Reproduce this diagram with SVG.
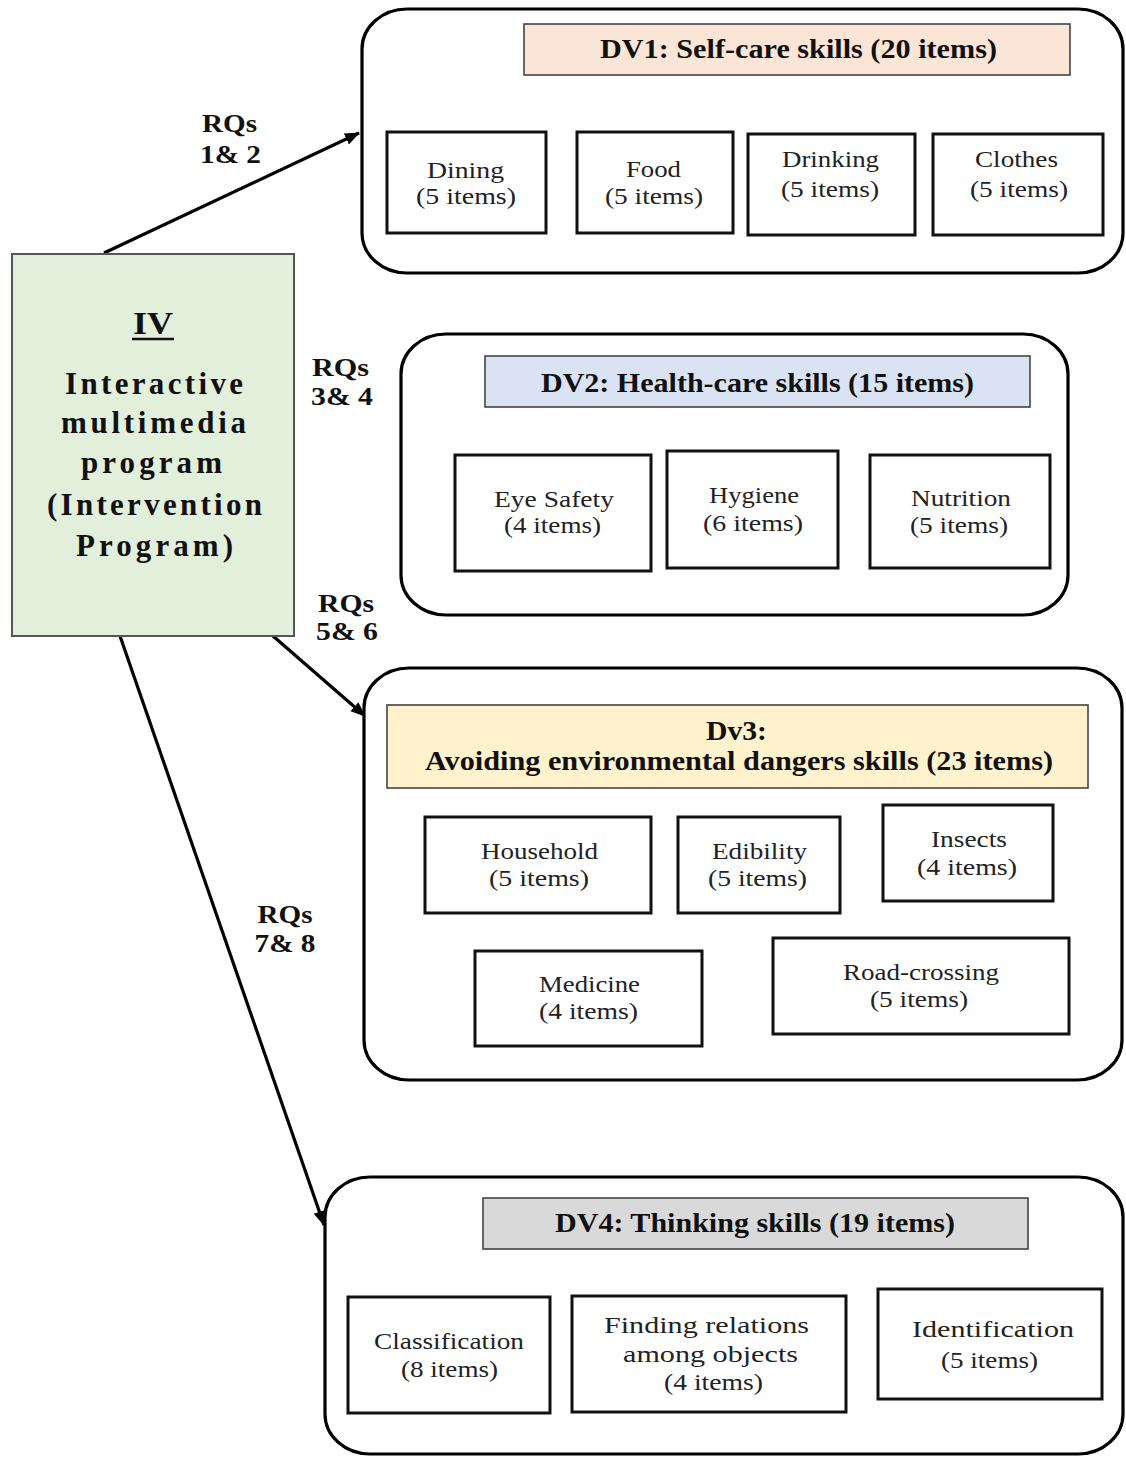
<svg xmlns="http://www.w3.org/2000/svg" width="1126" height="1457" viewBox="0 0 1126 1457">
<style>
.bg{fill:#ffffff}
.cont{fill:#ffffff;stroke:#000;stroke-width:3.2}
.item{fill:#ffffff;stroke:#111;stroke-width:3}
.hdr{stroke:#444;stroke-width:1.6}
.it{font-family:"Liberation Serif","Times New Roman",serif;font-size:24px;fill:#222;text-anchor:middle}
.h{font-family:"Liberation Serif","Times New Roman",serif;font-size:27px;font-weight:bold;fill:#111;text-anchor:middle}
.rq{font-family:"Liberation Serif","Times New Roman",serif;font-size:25px;font-weight:bold;fill:#111;text-anchor:middle}
.iv{font-family:"Liberation Serif","Times New Roman",serif;font-size:31px;font-weight:bold;fill:#111;text-anchor:middle}
.conn{stroke:#000;stroke-width:3.2;fill:none}
</style>
<defs>
<marker id="ah" markerUnits="userSpaceOnUse" markerWidth="16" markerHeight="14" refX="14" refY="6" orient="auto">
<path d="M0,0 L15,6 L0,12 z" fill="#000"/>
</marker>
</defs>
<rect class="bg" x="0" y="0" width="1126" height="1457"/>

<g id="connectors">
<line class="conn" x1="104" y1="253" x2="359" y2="133" marker-end="url(#ah)"/>
<line class="conn" x1="273" y1="636" x2="365" y2="716" marker-end="url(#ah)"/>
<line class="conn" x1="120" y1="636" x2="324" y2="1225" marker-end="url(#ah)"/>
<text class="rq" x="229.5" y="132" textLength="55" lengthAdjust="spacingAndGlyphs">RQs</text>
<text class="rq" x="230.5" y="163" textLength="61" lengthAdjust="spacingAndGlyphs">1&amp; 2</text>
<text class="rq" x="340.5" y="376" textLength="57" lengthAdjust="spacingAndGlyphs">RQs</text>
<text class="rq" x="342" y="405" textLength="62" lengthAdjust="spacingAndGlyphs">3&amp; 4</text>
<text class="rq" x="346" y="612" textLength="56" lengthAdjust="spacingAndGlyphs">RQs</text>
<text class="rq" x="347" y="640" textLength="62" lengthAdjust="spacingAndGlyphs">5&amp; 6</text>
<text class="rq" x="285" y="923" textLength="55" lengthAdjust="spacingAndGlyphs">RQs</text>
<text class="rq" x="285" y="952" textLength="61" lengthAdjust="spacingAndGlyphs">7&amp; 8</text>
</g>

<g id="iv">
<rect x="12" y="254" width="282" height="382" fill="#e2efda" stroke="#555" stroke-width="2"/>
<text class="iv" x="153" y="334" textLength="40" lengthAdjust="spacingAndGlyphs">IV</text>
<line x1="132" y1="339" x2="174" y2="339" stroke="#111" stroke-width="2.5"/>
<text class="iv" x="154" y="394" textLength="178" lengthAdjust="spacing">Interactive</text>
<text class="iv" x="153.5" y="433" textLength="185" lengthAdjust="spacing">multimedia</text>
<text class="iv" x="151.5" y="473" textLength="141" lengthAdjust="spacing">program</text>
<text class="iv" x="154.5" y="515" textLength="215" lengthAdjust="spacing">(Intervention</text>
<text class="iv" x="154.5" y="556" textLength="157" lengthAdjust="spacing">Program)</text>
</g>

<g id="dv1">
<rect class="cont" x="362" y="9" width="761" height="264" rx="45" ry="40"/>
<rect class="hdr" x="524" y="24" width="546" height="51" fill="#fbe5d6"/>
<text class="h" x="798.5" y="58" textLength="397" lengthAdjust="spacingAndGlyphs">DV1: Self-care skills (20 items)</text>
<g id="dining">
<rect class="item" x="387" y="132" width="159" height="101"/>
<text class="it" x="465.5" y="178" textLength="77" lengthAdjust="spacingAndGlyphs">Dining</text>
<text class="it" x="466" y="204" textLength="100" lengthAdjust="spacingAndGlyphs">(5 items)</text>
</g>
<g id="food">
<rect class="item" x="577" y="132" width="156" height="101"/>
<text class="it" x="653.5" y="177" textLength="55" lengthAdjust="spacingAndGlyphs">Food</text>
<text class="it" x="654" y="204" textLength="98" lengthAdjust="spacingAndGlyphs">(5 items)</text>
</g>
<g id="drinking">
<rect class="item" x="748" y="134" width="167" height="101"/>
<text class="it" x="830.5" y="167" textLength="97" lengthAdjust="spacingAndGlyphs">Drinking</text>
<text class="it" x="830" y="197" textLength="98" lengthAdjust="spacingAndGlyphs">(5 items)</text>
</g>
<g id="clothes">
<rect class="item" x="933" y="134" width="170" height="101"/>
<text class="it" x="1016.5" y="167" textLength="83" lengthAdjust="spacingAndGlyphs">Clothes</text>
<text class="it" x="1019" y="197" textLength="98" lengthAdjust="spacingAndGlyphs">(5 items)</text>
</g>
</g>

<g id="dv2">
<rect class="cont" x="401" y="334" width="667" height="281" rx="45" ry="40"/>
<rect class="hdr" x="485" y="356" width="545" height="51" fill="#dae3f3"/>
<text class="h" x="757.5" y="392" textLength="433" lengthAdjust="spacingAndGlyphs">DV2: Health-care skills (15 items)</text>
<g id="eye">
<rect class="item" x="455" y="455" width="196" height="116"/>
<text class="it" x="554" y="507" textLength="120" lengthAdjust="spacingAndGlyphs">Eye Safety</text>
<text class="it" x="552.5" y="533" textLength="97" lengthAdjust="spacingAndGlyphs">(4 items)</text>
</g>
<g id="hygiene">
<rect class="item" x="667" y="451" width="171" height="117"/>
<text class="it" x="754" y="503" textLength="90" lengthAdjust="spacingAndGlyphs">Hygiene</text>
<text class="it" x="753" y="531" textLength="100" lengthAdjust="spacingAndGlyphs">(6 items)</text>
</g>
<g id="nutrition">
<rect class="item" x="870" y="455" width="180" height="113"/>
<text class="it" x="961" y="506" textLength="100" lengthAdjust="spacingAndGlyphs">Nutrition</text>
<text class="it" x="959" y="533" textLength="98" lengthAdjust="spacingAndGlyphs">(5 items)</text>
</g>
</g>

<g id="dv3">
<rect class="cont" x="364" y="668" width="758" height="412" rx="45" ry="40"/>
<rect class="hdr" x="387" y="705" width="701" height="83" fill="#fff2cc"/>
<text class="h" x="736.5" y="740" textLength="61" lengthAdjust="spacingAndGlyphs">Dv3:</text>
<text class="h" x="739" y="770" textLength="628" lengthAdjust="spacingAndGlyphs">Avoiding environmental dangers skills (23 items)</text>
<g id="household">
<rect class="item" x="425" y="817" width="226" height="96"/>
<text class="it" x="539.5" y="859" textLength="117" lengthAdjust="spacingAndGlyphs">Household</text>
<text class="it" x="539" y="886" textLength="100" lengthAdjust="spacingAndGlyphs">(5 items)</text>
</g>
<g id="edibility">
<rect class="item" x="678" y="817" width="162" height="96"/>
<text class="it" x="759.5" y="859" textLength="95" lengthAdjust="spacingAndGlyphs">Edibility</text>
<text class="it" x="757.5" y="886" textLength="99" lengthAdjust="spacingAndGlyphs">(5 items)</text>
</g>
<g id="insects">
<rect class="item" x="883" y="805" width="170" height="96"/>
<text class="it" x="969" y="847" textLength="76" lengthAdjust="spacingAndGlyphs">Insects</text>
<text class="it" x="967" y="875" textLength="100" lengthAdjust="spacingAndGlyphs">(4 items)</text>
</g>
<g id="medicine">
<rect class="item" x="475" y="951" width="227" height="95"/>
<text class="it" x="589.5" y="992" textLength="101" lengthAdjust="spacingAndGlyphs">Medicine</text>
<text class="it" x="588.5" y="1019" textLength="99" lengthAdjust="spacingAndGlyphs">(4 items)</text>
</g>
<g id="road">
<rect class="item" x="773" y="938" width="296" height="96"/>
<text class="it" x="921" y="980" textLength="156" lengthAdjust="spacingAndGlyphs">Road-crossing</text>
<text class="it" x="919" y="1007" textLength="98" lengthAdjust="spacingAndGlyphs">(5 items)</text>
</g>
</g>

<g id="dv4">
<rect class="cont" x="325" y="1177" width="798" height="277" rx="45" ry="40"/>
<rect class="hdr" x="483" y="1198" width="545" height="51" fill="#d9d9d9"/>
<text class="h" x="755" y="1232" textLength="400" lengthAdjust="spacingAndGlyphs">DV4: Thinking skills (19 items)</text>
<g id="classification">
<rect class="item" x="348" y="1297" width="202" height="116"/>
<text class="it" x="449" y="1349" textLength="150" lengthAdjust="spacingAndGlyphs">Classification</text>
<text class="it" x="449.5" y="1377" textLength="97" lengthAdjust="spacingAndGlyphs">(8 items)</text>
</g>
<g id="finding">
<rect class="item" x="572" y="1296" width="274" height="116"/>
<text class="it" x="706.5" y="1333" textLength="205" lengthAdjust="spacingAndGlyphs">Finding relations</text>
<text class="it" x="710.5" y="1362" textLength="175" lengthAdjust="spacingAndGlyphs">among objects</text>
<text class="it" x="713.5" y="1390" textLength="99" lengthAdjust="spacingAndGlyphs">(4 items)</text>
</g>
<g id="identification">
<rect class="item" x="878" y="1289" width="224" height="110"/>
<text class="it" x="993" y="1337" textLength="162" lengthAdjust="spacingAndGlyphs">Identification</text>
<text class="it" x="989.5" y="1368" textLength="97" lengthAdjust="spacingAndGlyphs">(5 items)</text>
</g>
</g>
</svg>
